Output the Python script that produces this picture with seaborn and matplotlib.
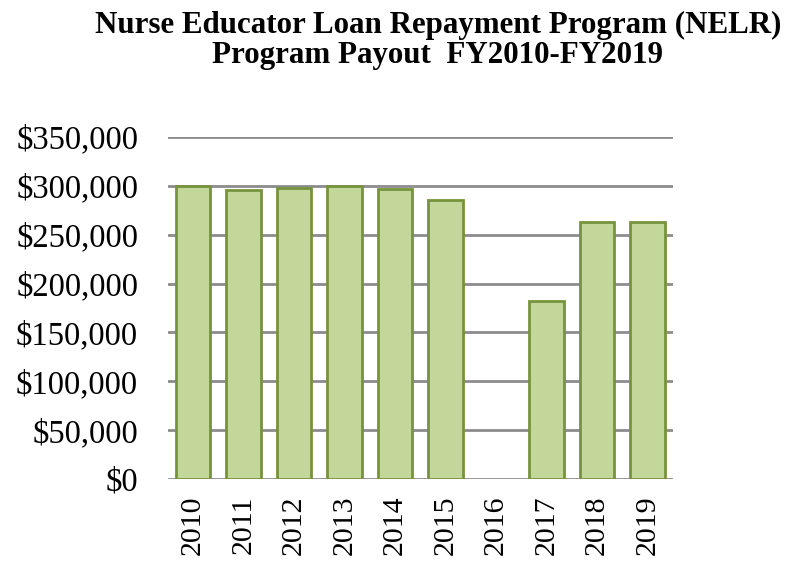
import pandas as pd
import matplotlib.pyplot as plt
import seaborn as sns
from matplotlib.ticker import FuncFormatter

# Data
years = ['2010', '2011', '2012', '2013', '2014', '2015', '2016', '2017', '2018', '2019']
payout = [300000, 296000, 298000, 300000, 297000, 285000, 0, 182500, 263000, 263000]

df = pd.DataFrame({'Year': years, 'Payout': payout})

sns.set_style('white')
plt.rcParams['font.family'] = ['Liberation Serif', 'DejaVu Serif']
plt.rcParams['text.color'] = 'black'
plt.rcParams['xtick.color'] = 'black'
plt.rcParams['ytick.color'] = 'black'

fig = plt.figure(figsize=(7.96, 5.61), dpi=100)
ax = fig.add_axes([0.211, 0.146, 0.634, 0.61])

ax.yaxis.grid(True, color='#8c8c8c', linewidth=2)
ax.set_axisbelow(True)

sns.barplot(data=df, x='Year', y='Payout', ax=ax, color='#c4d79b',
            edgecolor='#77933c', linewidth=2, width=0.68, saturation=1)

# empty bars (zero payout) show no outline
for p in ax.patches:
    if p.get_height() == 0:
        p.set_linewidth(0)

ax.set_ylim(0, 350000)
ax.set_xlim(-0.5, 9.5)
ax.set_yticks(range(0, 350001, 50000))
ax.yaxis.set_major_formatter(FuncFormatter(lambda v, p: f"${v:,.0f}"))
ax.tick_params(axis='y', labelsize=23.5, pad=21.5, length=0)
ax.tick_params(axis='x', labelsize=21.5, rotation=90, length=0, pad=12)
ax.set_xlabel('')
ax.set_ylabel('')
for s in ax.spines.values():
    s.set_visible(False)

fig.text(0.55, 0.981, "Nurse Educator Loan Repayment Program (NELR)\nProgram Payout  FY2010-FY2019",
         ha='center', va='top', fontsize=22.3, fontweight='bold', linespacing=1.05)

fig.savefig('out.png', dpi=100)
